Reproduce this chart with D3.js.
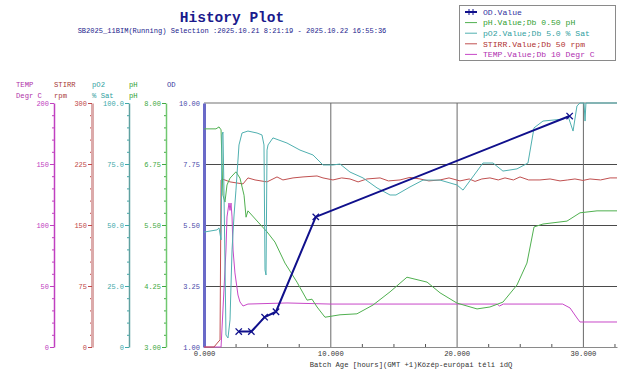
<!DOCTYPE html>
<html>
<head>
<meta charset="utf-8">
<script src="https://cdn.jsdelivr.net/npm/d3@7"></script>
<style>
  html, body { margin: 0; padding: 0; background: #fff; }
  svg text { font-family: "Liberation Mono", "DejaVu Sans Mono", monospace; }
</style>
</head>
<body>
<div id="chart"></div>
<script>
// values (hours, value)
const odSeries = [[2.75, 1.57], [3.75, 1.57], [4.8, 2.1], [5.7, 2.3], [8.85, 5.8], [28.95, 9.52]];

const phSeries = [
  [0, 7.47], [0.95, 7.47], [1.19, 7.51], [1.35, 7.45], [1.5, 6.11], [1.66, 5.97], [1.82, 6.32],
  [2.06, 6.46], [2.53, 6.59], [2.85, 6.46], [3.17, 6.11], [3.33, 5.66], [3.48, 5.79], [4.28, 5.56],
  [4.99, 5.36], [5.62, 5.15], [6.41, 4.72], [7.36, 4.33], [8.16, 3.96], [8.55, 3.98], [8.95, 3.82],
  [9.58, 3.61], [10.77, 3.66], [12.11, 3.68], [13.38, 3.86], [14.73, 4.13], [16.07, 4.43],
  [17.66, 4.33], [18.69, 4.11], [20.03, 3.9], [21.62, 3.78], [22.64, 3.82], [23.67, 3.92],
  [24.78, 4.27], [25.57, 4.72], [26.13, 5.46], [26.84, 5.52], [28.74, 5.58], [29.77, 5.75],
  [31.12, 5.79], [32.7, 5.79]
];

const po2Series = [
  [0, 47.1], [1.03, 48.0], [1.19, 48.8], [1.35, 43.9], [1.43, 86.9], [1.5, 88.1], [1.58, 64.3],
  [1.74, 4.9], [1.9, 3.7], [2.06, 11.1], [2.22, 39.8], [2.38, 54.1], [2.53, 64.3], [2.77, 82.8],
  [3.01, 87.7], [3.48, 88.5], [4.2, 87.7], [4.59, 86.9], [4.75, 82.8], [4.83, 31.6], [4.91, 29.5],
  [4.99, 80.7], [5.07, 82.8], [5.46, 85.7], [6.57, 83.6], [7.6, 80.7], [8.63, 78.7], [9.42, 74.6],
  [10.21, 74.6], [10.77, 75.0], [11.56, 71.7], [12.59, 69.3], [13.7, 65.2], [14.73, 62.3],
  [15.2, 62.3], [16.31, 65.6], [17.34, 68.4], [18.69, 68.4], [20.03, 66.4], [20.51, 64.3],
  [22.09, 75.4], [22.88, 75.4], [23.67, 72.1], [24.78, 73.0], [25.65, 75.4], [26.13, 89.8],
  [26.84, 92.6], [28.43, 93.4], [28.82, 94.7], [29.22, 88.5], [29.53, 98.8], [29.77, 100],
  [30.09, 100], [30.17, 92.6], [30.24, 100], [32.7, 100]
];

const stirrSeries = [
  [0, 0], [0.79, 0], [1.19, 7.4], [1.27, 8.6], [1.35, 205], [1.43, 206.6], [2.06, 203], [3.09, 200.5],
  [3.48, 207.9], [4.04, 205.4], [4.99, 203], [5.78, 209.1], [6.25, 205.4], [7.05, 207.9],
  [7.84, 209.1], [8.95, 210.3], [9.42, 207.9], [10.21, 205.4], [10.9, 207.9], [11.56, 206.6],
  [12.2, 203.0], [12.9, 206.6], [13.94, 207.9], [14.6, 204.2], [15.52, 205.4], [16.3, 208.5],
  [17.1, 206.6], [17.8, 204.2], [18.69, 205.4], [19.4, 207.9], [20.27, 204.2], [21.0, 206.6],
  [21.46, 203.6], [22.0, 206.6], [22.64, 207.9], [23.3, 205.4], [23.83, 207.9], [24.5, 205.4],
  [25.02, 209.1], [25.7, 205.4], [26.6, 205.4], [27.4, 206.6], [28.19, 204.2], [28.8, 205.4],
  [29.37, 206.6], [30.0, 204.8], [30.56, 206.6], [31.4, 205.4], [32.15, 207.9], [32.7, 207.9]
];

const tempSeries = [
  [0, 0], [1.35, 0], [1.5, 30.3], [1.74, 79.5], [1.82, 106.6], [1.98, 118], [2.06, 112], [2.14, 118],
  [2.22, 106.6], [2.3, 79.5], [2.45, 60.7], [2.69, 42.6], [2.85, 36.9], [3.09, 33.6], [3.48, 35.2],
  [6.57, 36.1], [9.98, 35.2], [23.2, 35.2], [23.4, 33.6], [23.7, 35.2], [28.4, 35.2], [28.98, 32],
  [29.53, 23.8], [29.77, 20.5], [32.7, 20.5]
];

const xTicks = [0, 10, 20, 30];
const xMinorTicks = [2.5, 5, 7.5, 12.5, 15, 17.5, 22.5, 25, 27.5, 32.5];
const odTicks = [1, 3.25, 5.5, 7.75, 10];
const phTicks = [3, 4.25, 5.5, 6.75, 8];
const po2Ticks = [0, 25, 50, 75, 100];
const stirrTicks = [0, 75, 150, 225, 300];
const tempTicks = [0, 50, 100, 150, 200];

const legendNames = ["OD.Value", "pH.Value;Db 0.50 pH", "pO2.Value;Db 5.0 % Sat",
  "STIRR.Value;Db 50 rpm", "TEMP.Value;Db 10 Degr C"];

const W = 619, H = 372;
const plotLeft = 204, plotRight = 617, plotTop = 103, plotBottom = 347;

const svg = d3.select("#chart").append("svg")
  .attr("width", W).attr("height", H)
  .attr("viewBox", `0 0 ${W} ${H}`);

const x = d3.scaleLinear().domain([0, 32.7]).range([plotLeft, plotRight]);
const yOD = d3.scaleLinear().domain([1, 10]).range([plotBottom, plotTop]);
const yPH = d3.scaleLinear().domain([3, 8]).range([plotBottom, plotTop]);
const yPO2 = d3.scaleLinear().domain([0, 100]).range([plotBottom, plotTop]);
const ySTIRR = d3.scaleLinear().domain([0, 300]).range([plotBottom, plotTop]);
const yTEMP = d3.scaleLinear().domain([0, 200]).range([plotBottom, plotTop]);

// titles
svg.append("text").attr("x", 232).attr("y", 22).attr("text-anchor", "middle")
  .attr("font-size", 14.5).attr("font-weight", "bold").attr("fill", "#1a1a8c")
  .text("History Plot");
svg.append("text").attr("x", 232).attr("y", 33).attr("text-anchor", "middle")
  .attr("font-size", 7.05).attr("fill", "#1a1a8c")
  .text("SB2025_11BIM(Running) Selection :2025.10.21 8:21:19 - 2025.10.22 16:55:36");

// grid
const grid = svg.append("g").attr("class", "grid");
grid.append("line").attr("x1", plotLeft).attr("x2", plotRight).attr("y1", plotTop).attr("y2", plotTop)
  .attr("stroke", "#b8b8b8").attr("stroke-width", 2);
grid.append("g").attr("transform", `translate(${plotLeft},0)`)
  .call(d3.axisLeft(yOD).tickValues([3.25, 5.5, 7.75]).tickSize(-(plotRight - plotLeft)).tickFormat(""))
  .call(g => g.select(".domain").remove())
  .call(g => g.selectAll("line").attr("stroke", "#4a4a4a"));
grid.append("g").attr("transform", `translate(0,${plotBottom})`)
  .call(d3.axisBottom(x).tickValues([10, 20, 30]).tickSize(-(plotBottom - plotTop)).tickFormat(""))
  .call(g => g.select(".domain").remove())
  .call(g => g.selectAll("line").attr("stroke", "#6a6a6a"));

// x axis
svg.append("g").attr("transform", `translate(0,${plotBottom})`)
  .call(d3.axisBottom(x).tickValues(xMinorTicks).tickSize(-3).tickFormat("").tickSizeOuter(0))
  .call(g => g.select(".domain").attr("stroke", "#8a8a8a"))
  .call(g => g.selectAll(".tick line").attr("stroke", "#555"));
svg.append("g").attr("transform", `translate(0,${plotBottom})`)
  .call(d3.axisBottom(x).tickValues(xTicks).tickSize(0).tickPadding(4).tickFormat(d3.format(".3f")))
  .call(g => g.select(".domain").remove())
  .call(g => g.selectAll("text").attr("font-family", "Liberation Mono").attr("font-size", 7.2).attr("fill", "#333"));
svg.append("text").attr("x", 411).attr("y", 367).attr("text-anchor", "middle")
  .attr("font-size", 7.2).attr("fill", "#333")
  .text("Batch Age [hours](GMT +1)Közép-európai téli idQ");

// left axes
const axes = [
  { scale: yTEMP, ticks: tempTicks, fmt: d3.format("d"), xPos: 54, line: "#c040c0", lw: 1.5, text: "#c040c0",
    name: "TEMP", unit: "Degr C", titleColor: "#b030a8", tx: 16 },
  { scale: ySTIRR, ticks: stirrTicks, fmt: d3.format("d"), xPos: 92, line: "#dcaaaa", lw: 3, text: "#c04848",
    name: "STIRR", unit: "rpm", titleColor: "#a83838", tx: 54 },
  { scale: yPO2, ticks: po2Ticks, fmt: d => d === 0 ? "0" : d3.format(".1f")(d), xPos: 129, line: "#5fa0a0", lw: 1.5, text: "#40a8a8",
    name: "pO2", unit: "% Sat", titleColor: "#30a0a0", tx: 92 },
  { scale: yPH, ticks: phTicks, fmt: d3.format(".2f"), xPos: 166, line: "#70c870", lw: 1.5, text: "#40a840",
    name: "pH", unit: "pH", titleColor: "#30a030", tx: 129 }
];

axes.forEach(a => {
  const step = (a.ticks[1] - a.ticks[0]) / 5;
  const minor = d3.range(a.ticks[0] + step, a.ticks[4], step).filter(v => !a.ticks.some(t => Math.abs(t - v) < 1e-6));
  const g = svg.append("g").attr("transform", `translate(${a.xPos},0)`);
  g.append("g")
    .call(d3.axisLeft(a.scale).tickValues(minor).tickSize(2).tickFormat(""))
    .call(s => s.select(".domain").remove())
    .call(s => s.selectAll("line").attr("stroke", a.text));
  g.append("g")
    .call(d3.axisLeft(a.scale).tickValues(a.ticks).tickFormat(a.fmt).tickSize(4).tickPadding(1).tickSizeOuter(0))
    .call(s => s.select(".domain").attr("stroke", a.line).attr("stroke-width", a.lw))
    .call(s => s.selectAll(".tick line").attr("stroke", a.text))
    .call(s => s.selectAll("text").attr("font-family", "Liberation Mono").attr("font-size", 7).attr("fill", a.text));
  svg.append("text").attr("x", a.tx).attr("y", 87).attr("font-size", 7.2).attr("fill", a.titleColor).text(a.name);
  svg.append("text").attr("x", a.tx).attr("y", 98).attr("font-size", 7.2).attr("fill", a.titleColor)
    .attr("xml:space", "preserve").text(a.unit);
});

// OD axis on the plot edge
svg.append("text").attr("x", 167).attr("y", 87).attr("font-size", 7.2).attr("fill", "#3838a0").text("OD");
svg.append("g").attr("transform", `translate(${plotLeft},0)`)
  .call(d3.axisLeft(yOD).tickValues(odTicks).tickFormat(d3.format(".2f")).tickSize(0).tickPadding(4).tickSizeOuter(0))
  .call(s => s.select(".domain").attr("stroke", "#6a6ac8").attr("stroke-width", 3))
  .call(s => s.selectAll("text").attr("font-family", "Liberation Mono").attr("font-size", 7).attr("fill", "#4848a8"));

// series
const plot = svg.append("g");
function drawSeries(data, yScale, color, width) {
  plot.append("path").datum(data)
    .attr("fill", "none").attr("stroke", color).attr("stroke-width", width)
    .attr("stroke-linejoin", "round")
    .attr("d", d3.line().x(d => x(d[0])).y(d => yScale(d[1])));
}
drawSeries(tempSeries, yTEMP, "#c848c8", 1);
drawSeries(stirrSeries, ySTIRR, "#c05050", 1);
drawSeries(phSeries, yPH, "#50b050", 1);
drawSeries(po2Series, yPO2, "#50b0b0", 1);
drawSeries(odSeries, yOD, "#10108c", 2);

const cross = d3.symbol().type(d3.symbolX).size(28);
plot.selectAll(".odpt").data(odSeries).join("path")
  .attr("class", "odpt")
  .attr("transform", d => `translate(${x(d[0])},${yOD(d[1])})`)
  .attr("d", cross)
  .attr("fill", "none").attr("stroke", "#10108c").attr("stroke-width", 1.3);

// legend
const legendColors = ["#10108c", "#50b050", "#50b0b0", "#c05050", "#c848c8"];
const legendText = ["#3030a0", "#30a030", "#30a0a0", "#b03030", "#b030b0"];
const lg = svg.append("g");
lg.append("rect").attr("x", 459.5).attr("y", 5.5).attr("width", 156).attr("height", 55)
  .attr("fill", "#fff").attr("stroke", "#8a8a8a");
legendNames.forEach((n, i) => {
  const yy = 12 + i * 10.6;
  lg.append("line").attr("x1", 465).attr("x2", 477).attr("y1", yy).attr("y2", yy)
    .attr("stroke", legendColors[i]).attr("stroke-width", i === 0 ? 2 : 1);
  if (i === 0) {
    [469, 473].forEach(px => lg.append("line").attr("x1", px).attr("x2", px)
      .attr("y1", yy - 3).attr("y2", yy + 3).attr("stroke", legendColors[0]).attr("stroke-width", 1));
  }
  lg.append("text").attr("x", 483).attr("y", yy + 2.7).attr("font-size", 8.1)
    .attr("fill", legendText[i]).text(n);
});
</script>
</body>
</html>
